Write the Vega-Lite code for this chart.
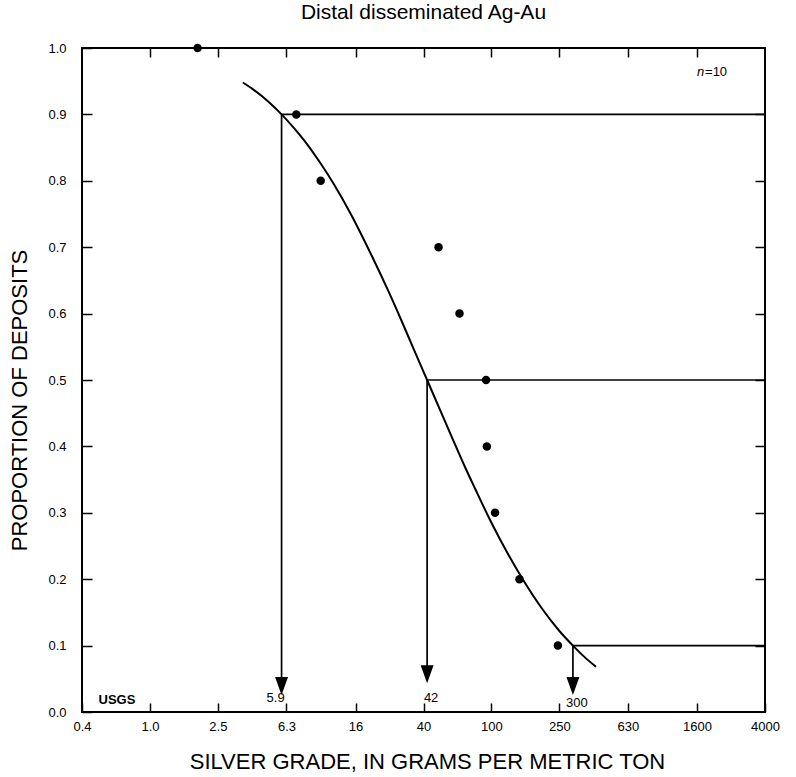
{
  "$schema": "https://vega.github.io/schema/vega-lite/v6.json",
  "width": 683,
  "height": 664,
  "autosize": "none",
  "padding": {"left": 82, "top": 48, "right": 31, "bottom": 65},
  "background": "white",
  "title": {"text": "Distal disseminated Ag-Au", "fontSize": 21, "font": "Liberation Sans", "fontWeight": "normal", "color": "black", "offset": 19, "anchor": "middle"},
  "config": {
    "view": {"stroke": "black", "strokeWidth": 2},
    "axis": {"grid": false, "domain": false, "tickColor": "black", "tickWidth": 1.5, "labelColor": "black", "labelFont": "Liberation Sans", "labelFontSize": 13, "titleFont": "Liberation Sans", "titleFontSize": 22, "titleFontWeight": "normal", "titleColor": "black"}
  },
  "datasets": {
    "curve": [
      {"grade": 3.5, "prop": 0.948}, {"grade": 4, "prop": 0.938}, {"grade": 5, "prop": 0.918},
      {"grade": 5.9, "prop": 0.9}, {"grade": 7, "prop": 0.879}, {"grade": 8, "prop": 0.861},
      {"grade": 10, "prop": 0.826}, {"grade": 12, "prop": 0.794}, {"grade": 15, "prop": 0.75},
      {"grade": 20, "prop": 0.686}, {"grade": 25, "prop": 0.633}, {"grade": 30, "prop": 0.587},
      {"grade": 35, "prop": 0.547}, {"grade": 42, "prop": 0.5}, {"grade": 50, "prop": 0.455},
      {"grade": 60, "prop": 0.408}, {"grade": 70, "prop": 0.369}, {"grade": 80, "prop": 0.337},
      {"grade": 100, "prop": 0.285}, {"grade": 125, "prop": 0.238}, {"grade": 150, "prop": 0.203},
      {"grade": 200, "prop": 0.154}, {"grade": 250, "prop": 0.122}, {"grade": 300, "prop": 0.1},
      {"grade": 350, "prop": 0.083}, {"grade": 410, "prop": 0.068}
    ],
    "deposits": [
      {"grade": 1.9, "prop": 1.0}, {"grade": 7.2, "prop": 0.9}, {"grade": 10, "prop": 0.8},
      {"grade": 49, "prop": 0.7}, {"grade": 65, "prop": 0.6}, {"grade": 93, "prop": 0.5},
      {"grade": 94, "prop": 0.4}, {"grade": 105, "prop": 0.3}, {"grade": 146, "prop": 0.2},
      {"grade": 245, "prop": 0.1}
    ],
    "rules": [
      {"x": 5.9, "x2": 4000, "y": 0.9, "y2": 0.9},
      {"x": 42, "x2": 4000, "y": 0.5, "y2": 0.5},
      {"x": 300, "x2": 4000, "y": 0.1, "y2": 0.1},
      {"x": 5.9, "x2": 5.9, "y": 0.9, "y2": 0.045},
      {"x": 42, "x2": 42, "y": 0.5, "y2": 0.06},
      {"x": 300, "x2": 300, "y": 0.1, "y2": 0.045}
    ],
    "arrows": [
      {"x": 5.9, "y": 0.039}, {"x": 42, "y": 0.057}, {"x": 300, "y": 0.039}
    ]
  },
  "layer": [
    {
      "data": {"name": "curve"},
      "mark": {"type": "line", "color": "black", "strokeWidth": 2, "interpolate": "monotone"},
      "encoding": {
        "x": {"field": "grade", "type": "quantitative",
          "scale": {"type": "log", "domain": [0.4, 4000], "nice": false},
          "axis": {"orient": "bottom", "values": [0.4, 1, 2.5, 6.3, 16, 40, 100, 250, 630, 1600, 4000],
            "labelExpr": "datum.value < 10 ? format(datum.value, '.1f') : format(datum.value, 'd')",
            "tickSize": -9, "labelPadding": 17, "labelFlush": false, "labelOverlap": false,
            "title": "SILVER GRADE, IN GRAMS PER METRIC TON", "titleX": 345, "titleY": 56, "titleBaseline": "alphabetic", "titleAnchor": "middle", "titleAlign": "center"}},
        "y": {"field": "prop", "type": "quantitative",
          "scale": {"domain": [0, 1], "nice": false},
          "axis": {"orient": "left", "values": [0, 0.1, 0.2, 0.3, 0.4, 0.5, 0.6, 0.7, 0.8, 0.9, 1.0],
            "format": ".1f", "tickSize": -10, "labelPadding": 26, "labelFlush": false, "labelOverlap": false,
            "title": "PROPORTION OF DEPOSITS", "titleX": -56, "titleY": 352, "titleBaseline": "alphabetic", "titleAngle": -90, "titleAlign": "center"}}
      }
    },
    {
      "data": {"name": "deposits"},
      "mark": {"type": "circle", "color": "black", "opacity": 1, "size": 72},
      "encoding": {
        "x": {"field": "grade", "type": "quantitative",
          "axis": {"orient": "top", "values": [1, 2.5, 6.3, 16, 40, 100, 250, 630, 1600], "labels": false, "tickSize": -9, "title": null}},
        "y": {"field": "prop", "type": "quantitative",
          "axis": {"orient": "right", "values": [0.1, 0.2, 0.3, 0.4, 0.5, 0.6, 0.7, 0.8, 0.9], "labels": false, "tickSize": -10, "title": null}}
      }
    },
    {
      "data": {"name": "rules"},
      "mark": {"type": "rule", "color": "black", "strokeWidth": 1.7},
      "encoding": {
        "x": {"field": "x", "type": "quantitative", "axis": null},
        "x2": {"field": "x2"},
        "y": {"field": "y", "type": "quantitative", "axis": null},
        "y2": {"field": "y2"}
      }
    },
    {
      "data": {"name": "arrows"},
      "mark": {"type": "point", "shape": "M-0.72,-1L0.72,-1L0,1Z", "size": 324, "filled": true, "color": "black", "opacity": 1, "strokeWidth": 0},
      "encoding": {
        "x": {"field": "x", "type": "quantitative", "axis": null},
        "y": {"field": "y", "type": "quantitative", "axis": null}
      }
    },
    {
      "data": {"values": [{"x": 5.9, "y": 0.021, "label": "5.9"}]},
      "mark": {"type": "text", "font": "Liberation Sans", "fontSize": 13, "color": "black", "align": "center", "baseline": "middle", "dx": -6},
      "encoding": {
        "x": {"field": "x", "type": "quantitative", "axis": null},
        "y": {"field": "y", "type": "quantitative", "axis": null},
        "text": {"field": "label"}
      }
    },
    {
      "data": {"values": [{"x": 42, "y": 0.021, "label": "42"}, {"x": 300, "y": 0.014, "label": "300"}]},
      "mark": {"type": "text", "font": "Liberation Sans", "fontSize": 13, "color": "black", "align": "center", "baseline": "middle", "dx": 4},
      "encoding": {
        "x": {"field": "x", "type": "quantitative", "axis": null},
        "y": {"field": "y", "type": "quantitative", "axis": null},
        "text": {"field": "label"}
      }
    },
    {
      "data": {"values": [{"x": 0.5, "y": 0.018, "label": "USGS"}]},
      "mark": {"type": "text", "font": "Liberation Sans", "fontSize": 13, "fontWeight": "bold", "color": "black", "align": "left", "baseline": "middle"},
      "encoding": {
        "x": {"field": "x", "type": "quantitative", "axis": null},
        "y": {"field": "y", "type": "quantitative", "axis": null},
        "text": {"field": "label"}
      }
    },
    {
      "data": {"values": [{"x": 1600, "y": 0.964, "label": "n"}]},
      "mark": {"type": "text", "font": "Liberation Sans", "fontSize": 13, "fontStyle": "italic", "color": "black", "align": "left", "baseline": "middle"},
      "encoding": {
        "x": {"field": "x", "type": "quantitative", "axis": null},
        "y": {"field": "y", "type": "quantitative", "axis": null},
        "text": {"field": "label"}
      }
    },
    {
      "data": {"values": [{"x": 1600, "y": 0.964, "label": "=10"}]},
      "mark": {"type": "text", "font": "Liberation Sans", "fontSize": 13, "color": "black", "align": "left", "baseline": "middle", "dx": 8},
      "encoding": {
        "x": {"field": "x", "type": "quantitative", "axis": null},
        "y": {"field": "y", "type": "quantitative", "axis": null},
        "text": {"field": "label"}
      }
    }
  ],
  "resolve": {"axis": {"x": "independent", "y": "independent"}}
}
